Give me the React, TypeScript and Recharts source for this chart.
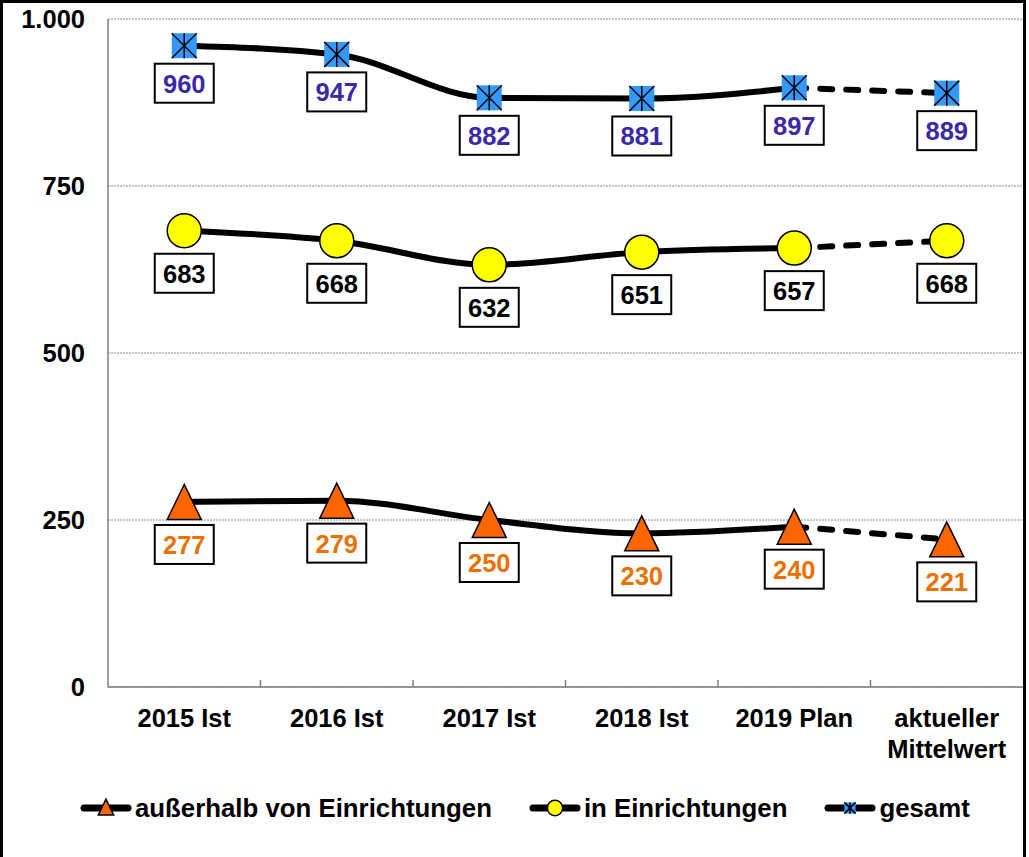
import { LineChart, Line, XAxis, YAxis, CartesianGrid } from 'recharts';

const categories = ['2015 Ist', '2016 Ist', '2017 Ist', '2018 Ist', '2019 Plan', 'aktueller\nMittelwert'];
const ausserhalb = [277, 279, 250, 230, 240, 221];
const inEinrichtungen = [683, 668, 632, 651, 657, 668];
const gesamt = [960, 947, 882, 881, 897, 889];
const yTicks = [0, 250, 500, 750, 1000];
// the first five points are Ist/Plan (solid), the last one is the running average (dashed)
const solidCount = 5;

const FONT = "Arial, 'Liberation Sans', sans-serif";
const last = categories.length - 1;

const chartData = categories.map((cat, i) => ({
  cat,
  a: i < solidCount ? ausserhalb[i] : null,
  aDash: i >= solidCount - 1 ? ausserhalb[i] : null,
  e: i < solidCount ? inEinrichtungen[i] : null,
  eDash: i >= solidCount - 1 ? inEinrichtungen[i] : null,
  g: i < solidCount ? gesamt[i] : null,
  gDash: i >= solidCount - 1 ? gesamt[i] : null,
}));

type Kind = 'triangle' | 'circle' | 'square';

function Marker({ kind, cx, cy, scale = 1 }: { kind: Kind; cx: number; cy: number; scale?: number }) {
  if (kind === 'triangle') {
    const w = 17 * scale;
    const h = 17.5 * scale;
    return (
      <polygon
        points={`${cx},${cy - h} ${cx - w},${cy + h} ${cx + w},${cy + h}`}
        fill="#FF6600"
        stroke="#000"
        strokeWidth={1.5}
      />
    );
  }
  if (kind === 'circle') {
    return <circle cx={cx} cy={cy} r={17 * scale} fill="#FFFF00" stroke="#000" strokeWidth={1.5} />;
  }
  const s = 12.5 * scale;
  return (
    <g>
      <rect x={cx - s} y={cy - s} width={2 * s} height={2 * s} fill="#3399FF" />
      <line x1={cx - s} y1={cy - s} x2={cx + s} y2={cy + s} stroke="#000" strokeWidth={1.5} />
      <line x1={cx - s} y1={cy + s} x2={cx + s} y2={cy - s} stroke="#000" strokeWidth={1.5} />
      <line x1={cx} y1={cy - s} x2={cx} y2={cy + s} stroke="#000" strokeWidth={1.5} />
    </g>
  );
}

function makeDot(kind: Kind, color: string, gap: number, dashed: boolean) {
  return (props: any) => {
    const { cx, cy, value, index } = props;
    if (value == null || cy == null || (dashed && index !== last)) return <g key={`n-${index}`} />;
    return (
      <g key={`d-${index}`}>
        <Marker kind={kind} cx={cx} cy={cy} />
        <rect x={cx - 29.5} y={cy + gap} width={59} height={39} fill="#fff" stroke="#000" strokeWidth={2} />
        <text
          x={cx}
          y={cy + gap + 29}
          textAnchor="middle"
          fontFamily={FONT}
          fontWeight="bold"
          fontSize={25.5}
          fill={color}
        >
          {value}
        </text>
      </g>
    );
  };
}

const XTick = (props: any) => {
  const { x, y, payload, index } = props;
  const half = payload.offset || 915 / 12;
  const lines = String(payload.value).split('\n');
  return (
    <g>
      {index < last && <line x1={x + half} y1={y - 7} x2={x + half} y2={y} stroke="#808080" strokeWidth={1.5} />}
      <text x={x} y={y} textAnchor="middle" fontFamily={FONT} fontWeight="bold" fontSize={25.5} fill="#000">
        {lines.map((l, i) => (
          <tspan key={i} x={x} y={y + 40 + i * 31}>
            {l}
          </tspan>
        ))}
      </text>
    </g>
  );
};

const fmt = (v: number) => String(v).replace(/\B(?=(\d{3})+(?!\d))/g, '.');

const legendItems: { kind: Kind; label: string }[] = [
  { kind: 'triangle', label: 'außerhalb von Einrichtungen' },
  { kind: 'circle', label: 'in Einrichtungen' },
  { kind: 'square', label: 'gesamt' },
];

export default function App() {
  return (
    <div style={{ position: 'relative', width: 1029, height: 857, overflow: 'hidden', background: '#fff' }}>
      <style>{`body{margin:0}`}</style>
      <div
        style={{
          position: 'absolute',
          left: 0,
          top: 0,
          width: 1026,
          height: 900,
          boxSizing: 'border-box',
          borderTop: '3px solid #000',
          borderLeft: '3px solid #000',
          borderRight: '3px solid #000',
        }}
      />
      <div style={{ position: 'absolute', left: 0, top: 0 }}>
        <LineChart width={1029} height={857} data={chartData} margin={{ top: 19, right: 6, bottom: 80, left: 0 }}>
          <CartesianGrid horizontal vertical={false} stroke="#8a8a8a" strokeDasharray="2 1" />
          <XAxis
            dataKey="cat"
            scale="band"
            height={90}
            axisLine={{ stroke: '#808080', strokeWidth: 1.5 }}
            tickLine={false}
            tickSize={0}
            tickMargin={0}
            tick={<XTick />}
            interval={0}
          />
          <YAxis
            width={108}
            domain={[0, 1000]}
            ticks={yTicks}
            tickFormatter={fmt}
            axisLine={{ stroke: '#808080', strokeWidth: 1.5 }}
            tickLine={false}
            tickSize={0}
            tickMargin={23}
            tick={{ fill: '#000', fontSize: 25.5, fontWeight: 'bold', fontFamily: FONT }}
          />
          <Line
            dataKey="aDash"
            type="linear"
            stroke="#000"
            strokeWidth={6}
            strokeDasharray="12 14"
            strokeLinecap="round"
            dot={makeDot('triangle', '#EB7000', 23, true)}
            isAnimationActive={false}
          />
          <Line
            dataKey="eDash"
            type="linear"
            stroke="#000"
            strokeWidth={6}
            strokeDasharray="12 14"
            strokeLinecap="round"
            dot={makeDot('circle', '#000', 23, true)}
            isAnimationActive={false}
          />
          <Line
            dataKey="gDash"
            type="linear"
            stroke="#000"
            strokeWidth={6}
            strokeDasharray="12 14"
            strokeLinecap="round"
            dot={makeDot('square', '#3A2AA8', 18, true)}
            isAnimationActive={false}
          />
          <Line
            dataKey="a"
            type="monotone"
            stroke="#000"
            strokeWidth={6}
            dot={makeDot('triangle', '#EB7000', 23, false)}
            isAnimationActive={false}
          />
          <Line
            dataKey="e"
            type="monotone"
            stroke="#000"
            strokeWidth={6}
            dot={makeDot('circle', '#000', 23, false)}
            isAnimationActive={false}
          />
          <Line
            dataKey="g"
            type="monotone"
            stroke="#000"
            strokeWidth={6}
            dot={makeDot('square', '#3A2AA8', 18, false)}
            isAnimationActive={false}
          />
        </LineChart>
      </div>
      <div
        style={{
          position: 'absolute',
          left: 80,
          top: 793,
          display: 'flex',
          alignItems: 'center',
          gap: 37,
          fontFamily: FONT,
          fontWeight: 'bold',
          fontSize: 25.8,
          color: '#000',
          whiteSpace: 'nowrap',
        }}
      >
        {legendItems.map((it) => (
          <div key={it.label} style={{ display: 'flex', alignItems: 'center' }}>
            <svg width={52} height={30} style={{ marginRight: 3 }}>
              <line x1={4} y1={15} x2={48} y2={15} stroke="#000" strokeWidth={7} strokeLinecap="round" />
              <Marker kind={it.kind} cx={26} cy={it.kind === 'triangle' ? 14 : 15} scale={0.45} />
            </svg>
            <span>{it.label}</span>
          </div>
        ))}
      </div>
    </div>
  );
}
